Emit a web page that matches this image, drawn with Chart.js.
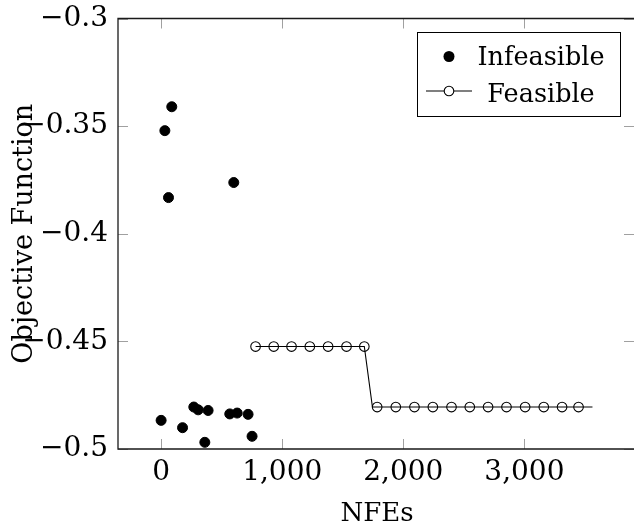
<!DOCTYPE html>
<html>
<head>
<meta charset="utf-8">
<script src="https://cdn.jsdelivr.net/npm/chart.js@4/dist/chart.umd.min.js"></script>
<style>
  html, body { margin: 0; padding: 0; background: #fff; overflow: hidden; }
  #c { display: block; }
</style>
</head>
<body>
<canvas id="c" width="634" height="529"></canvas>
<script>
// ---- data ----
const infeasibleX = [0, 31, 61, 88, 177, 270, 306, 361, 388, 567, 600, 628, 718, 751];
const infeasibleY = [-0.4867, -0.3521, -0.3832, -0.341, -0.4901, -0.4805, -0.4818, -0.4969, -0.4821, -0.4837, -0.3762, -0.4833, -0.4839, -0.4941];

// full polyline of the feasible run
const feasiblePathX = [780, 930, 1077, 1228, 1379, 1531, 1678, 1745, 1784, 1938, 2092, 2244, 2398, 2549, 2700, 2852, 3006, 3160, 3311, 3447, 3562];
const feasiblePathY = [-0.4524, -0.4524, -0.4524, -0.4524, -0.4524, -0.4524, -0.4524, -0.4805, -0.4805, -0.4805, -0.4805, -0.4805, -0.4805, -0.4805, -0.4805, -0.4805, -0.4805, -0.4805, -0.4805, -0.4805, -0.4805];
// marked samples of the feasible run
const feasibleMarkX = [780, 930, 1077, 1228, 1379, 1531, 1678, 1784, 1938, 2092, 2244, 2398, 2549, 2700, 2852, 3006, 3160, 3311, 3447];
const feasibleMarkY = [-0.4524, -0.4524, -0.4524, -0.4524, -0.4524, -0.4524, -0.4524, -0.4805, -0.4805, -0.4805, -0.4805, -0.4805, -0.4805, -0.4805, -0.4805, -0.4805, -0.4805, -0.4805, -0.4805];

const xTickValues = [0, 1000, 2000, 3000];
const yTickValues = [-0.5, -0.45, -0.4, -0.35, -0.3];
const seriesNames = ['Infeasible', 'Feasible'];
const xTitle = 'NFEs';
const yTitle = 'Objective Function';

const FONT = "'DejaVu Serif', serif";
const zip = (xs, ys) => xs.map((x, i) => ({ x: x, y: ys[i] }));

const fmtY = v => {
  const n = Number(v.toFixed(2));
  return (n < 0 ? '\u2212' : '') + Math.abs(n).toString();
};

const framePlugin = {
  id: 'frame',
  afterDatasetsDraw(chart) {
    const { ctx, chartArea: a, scales: { x, y } } = chart;
    ctx.save();
    // inward ticks on all four sides
    ctx.strokeStyle = '#a0a0a0';
    ctx.lineWidth = 1;
    const tl = 10;
    xTickValues.forEach(v => {
      const px = Math.round(x.getPixelForValue(v)) + 0.5;
      ctx.beginPath();
      ctx.moveTo(px, a.bottom); ctx.lineTo(px, a.bottom - tl);
      ctx.moveTo(px, a.top); ctx.lineTo(px, a.top + tl);
      ctx.stroke();
    });
    yTickValues.forEach(v => {
      const py = Math.round(y.getPixelForValue(v)) + 0.5;
      ctx.beginPath();
      ctx.moveTo(a.left, py); ctx.lineTo(a.left + tl, py);
      ctx.moveTo(a.right, py); ctx.lineTo(a.right - tl, py);
      ctx.stroke();
    });
    // frame (right side lies just outside the picture)
    ctx.strokeStyle = '#1a1a1a';
    ctx.lineWidth = 1.3;
    ctx.beginPath();
    ctx.moveTo(a.right + 2, a.top);
    ctx.lineTo(a.left, a.top);
    ctx.lineTo(a.left, a.bottom);
    ctx.lineTo(a.right + 2, a.bottom);
    ctx.stroke();

    // axis titles
    ctx.fillStyle = '#000';
    ctx.textAlign = 'center';
    ctx.textBaseline = 'alphabetic';
    ctx.font = '26px ' + FONT;
    ctx.fillText(xTitle, 377, 521);
    ctx.save();
    ctx.font = '27px ' + FONT;
    ctx.translate(32, (a.top + a.bottom) / 2);
    ctx.rotate(-Math.PI / 2);
    ctx.fillText(yTitle, 0, 0);
    ctx.restore();

    // legend
    const L = 417.5, T = 32.5, R = 620.5, B = 116.5;
    ctx.fillStyle = '#fff';
    ctx.fillRect(L, T, R - L, B - T);
    ctx.strokeStyle = '#000';
    ctx.lineWidth = 1;
    ctx.strokeRect(L, T, R - L, B - T);
    const mx = 449, r1 = 56.5, r2 = 91;
    ctx.fillStyle = '#000';
    ctx.beginPath(); ctx.arc(mx, r1, 5.5, 0, Math.PI * 2); ctx.fill();
    ctx.beginPath(); ctx.moveTo(426, r2); ctx.lineTo(472, r2); ctx.lineWidth = 1.1; ctx.stroke();
    ctx.beginPath(); ctx.arc(mx, r2, 4.8, 0, Math.PI * 2); ctx.fillStyle = '#fff'; ctx.fill(); ctx.stroke();
    ctx.fillStyle = '#000';
    ctx.font = '25.5px ' + FONT;
    ctx.textAlign = 'center';
    ctx.fillText(seriesNames[0], 541, 65);
    ctx.fillText(seriesNames[1], 541, 101.5);
    ctx.restore();
  }
};

new Chart(document.getElementById('c'), {
  type: 'scatter',
  data: {
    datasets: [
      {
        label: seriesNames[0],
        data: zip(infeasibleX, infeasibleY),
        backgroundColor: '#000',
        borderColor: '#000',
        borderWidth: 1,
        pointRadius: 5,
        showLine: false,
        clip: false
      },
      {
        label: seriesNames[1] + ' line',
        data: zip(feasiblePathX, feasiblePathY),
        showLine: true,
        borderColor: '#000',
        borderWidth: 1.1,
        pointRadius: 0,
        tension: 0,
        clip: false
      },
      {
        label: seriesNames[1],
        data: zip(feasibleMarkX, feasibleMarkY),
        showLine: false,
        backgroundColor: 'rgba(0,0,0,0)',
        borderColor: '#000',
        borderWidth: 1.1,
        pointRadius: 4.8,
        clip: false
      }
    ]
  },
  options: {
    responsive: false,
    animation: false,
    layout: { autoPadding: false, padding: { left: 0, top: 18.5, right: 0, bottom: 0 } },
    plugins: { legend: { display: false }, tooltip: { enabled: false } },
    scales: {
      x: {
        type: 'linear',
        min: -356,
        max: 3905,
        grid: { display: false, drawTicks: false },
        border: { display: false },
        afterBuildTicks: s => { s.ticks = xTickValues.map(v => ({ value: v })); },
        afterFit: s => { s.height = 80; s.paddingLeft = 0; s.paddingRight = 0; },
        ticks: {
          color: '#000',
          font: { family: FONT, size: 28 },
          padding: 7,
          maxRotation: 0,
          autoSkip: false,
          callback: v => Number(v).toLocaleString('en-US')
        }
      },
      y: {
        type: 'linear',
        min: -0.5,
        max: -0.3,
        grid: { display: false, drawTicks: false },
        border: { display: false },
        afterBuildTicks: s => { s.ticks = yTickValues.map(v => ({ value: v })); },
        afterFit: s => { s.width = 118; s.paddingTop = 0; s.paddingBottom = 0; },
        ticks: {
          color: '#000',
          font: { family: FONT, size: 28 },
          padding: 10,
          autoSkip: false,
          callback: v => fmtY(v)
        }
      }
    }
  },
  plugins: [framePlugin]
});
</script>
</body>
</html>
